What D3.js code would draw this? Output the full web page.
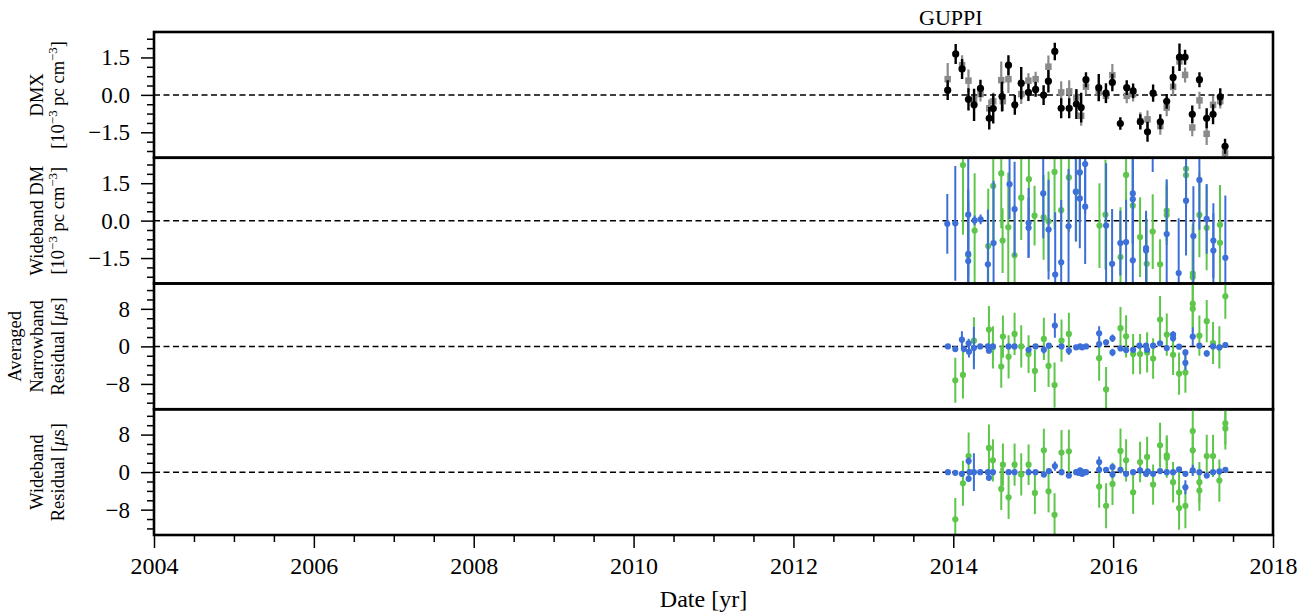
<!DOCTYPE html>
<html>
<head>
<meta charset="utf-8">
<script src="https://cdn.jsdelivr.net/npm/d3@7"></script>
<style>
  html, body { margin: 0; padding: 0; background: #fff; }
  svg { display: block; font-family: "Liberation Serif", "DejaVu Serif", serif; }
</style>
</head>
<body>
<svg id="chart" width="1305" height="615"></svg>
<script>
// ---- data: [year, value, error] ----
const dmxBlack = [
  [2013.93,0.19,0.4],[2014.03,1.64,0.4],[2014.11,1.04,0.4],[2014.19,-0.18,0.45],[2014.26,-0.40,0.65],
  [2014.34,0.26,0.35],[2014.45,-0.94,0.45],[2014.50,-0.55,0.6],[2014.61,-0.07,0.6],[2014.69,1.19,0.4],
  [2014.77,-0.40,0.4],[2014.85,0.47,0.65],[2014.94,0.10,0.35],[2015.03,0.22,0.3],[2015.13,-0.01,0.4],
  [2015.19,0.55,0.45],[2015.27,1.74,0.35],[2015.35,-0.54,0.4],[2015.45,-0.54,0.4],[2015.54,-0.37,0.6],
  [2015.60,-0.51,0.6],[2015.66,0.61,0.3],[2015.82,0.29,0.55],[2015.91,0.07,0.4],[2015.99,0.50,0.35],
  [2016.09,-1.15,0.25],[2016.17,0.29,0.3],[2016.25,0.16,0.3],[2016.34,-1.08,0.3],[2016.43,-1.48,0.4],
  [2016.50,0.07,0.35],[2016.59,-1.08,0.3],[2016.67,-0.26,0.3],[2016.75,0.70,0.45],[2016.83,1.51,0.55],
  [2016.90,1.51,0.3],[2016.99,-0.78,0.35],[2017.08,0.61,0.3],[2017.17,-0.94,0.4],[2017.25,-0.78,0.4],
  [2017.34,-0.08,0.35],[2017.40,-2.06,0.3]
];
const dmxGray = [
  [2013.93,0.63,0.65],[2014.11,1.19,0.4],[2014.19,0.57,0.45],[2014.26,-0.18,0.35],[2014.34,0.03,0.3],
  [2014.45,-0.54,0.35],[2014.50,-0.26,0.35],[2014.60,0.59,0.75],[2014.62,-0.25,0.4],[2014.69,0.63,0.55],
  [2014.85,0.03,0.4],[2014.94,0.57,0.3],[2015.03,0.63,0.3],[2015.19,1.13,0.45],[2015.35,0.10,0.45],
  [2015.45,0.14,0.45],[2015.54,-0.11,0.35],[2015.60,-0.84,0.4],[2015.66,0.33,0.3],[2015.82,0.10,0.35],
  [2015.91,-0.04,0.3],[2015.99,0.79,0.45],[2016.17,-0.04,0.3],[2016.25,0.03,0.3],[2016.34,-1.05,0.35],
  [2016.43,-0.98,0.35],[2016.59,-1.25,0.35],[2016.67,-0.51,0.35],[2016.75,0.32,0.35],[2016.83,1.34,0.35],
  [2016.90,0.80,0.3],[2016.99,-1.31,0.35],[2017.08,-0.22,0.35],[2017.17,-1.56,0.45],[2017.25,-0.40,0.35],
  [2017.34,-0.25,0.3],[2017.40,-2.32,0.3]
];
const wbDmBlue = [
  [2013.925,-0.13,1.2],[2014.025,-0.11,2.3],[2014.187,0.24,2.5],[2014.187,-1.33,2.6],[2014.187,-1.62,2.4],
  [2014.267,0.01,0.2],[2014.342,0.05,0.2],[2014.433,-1.75,2.2],[2014.504,-0.9,2.5],[2014.704,1.46,1.4],
  [2014.767,0.46,1.9],[2014.942,-0.09,1.4],[2014.942,-0.29,1.2],[2015.125,1.09,1.8],[2015.192,-0.36,2.0],
  [2015.275,-2.16,2.5],[2015.35,-1.67,2.5],[2015.442,-0.23,2.3],[2015.533,1.16,2.0],[2015.583,0.89,2.0],
  [2015.583,1.93,2.0],[2015.65,0.56,2.3],[2015.65,2.27,2.0],[2015.912,-0.2,2.5],[2015.987,-1.73,2.2],
  [2016.09,-0.9,1.3],[2016.162,-0.86,1.7],[2016.246,1.09,2.0],[2016.246,0.86,1.8],[2016.246,-1.59,2.0],
  [2016.412,-1.1,1.5],[2016.412,-1.2,1.5],[2016.495,3.4,1.45],[2016.67,-0.54,2.2],[2016.82,-2.1,2.2],
  [2016.912,0.8,2.2],[2017.004,-0.62,2.0],[2017.079,1.63,2.0],[2017.17,0.07,1.4],[2017.254,-0.8,1.5],
  [2017.254,-1.2,1.5],[2017.404,-1.49,2.5]
];
const wbDmGreen = [
  [2014.121,2.23,2.8],[2014.187,-1.39,2.5],[2014.267,-0.4,2.3],[2014.437,-1.02,2.3],[2014.5,1.39,2.2],
  [2014.6,1.89,2.2],[2014.617,-0.8,1.3],[2014.688,-0.27,2.2],[2014.767,-1.39,2.0],[2014.85,0.92,1.7],
  [2014.946,1.66,2.0],[2015.017,0.2,1.2],[2015.13,0.13,1.7],[2015.192,-0.03,2.0],[2015.267,1.95,2.3],
  [2015.35,0.42,2.3],[2015.446,1.73,2.2],[2015.537,1.16,2.0],[2015.829,-0.2,1.7],[2015.904,0.24,2.2],
  [2016.092,-1.46,2.0],[2016.162,1.83,2.2],[2016.246,0.6,2.3],[2016.337,-0.66,1.6],[2016.42,-1.73,1.8],
  [2016.495,-0.44,1.5],[2016.587,-1.75,1.0],[2016.67,0.4,1.2],[2016.67,0.23,1.2],[2016.912,2.08,1.5],
  [2016.912,1.82,1.5],[2016.996,-2.12,2.0],[2016.996,-2.26,2.0],[2017.079,0.23,1.7],[2017.17,-0.29,1.7],
  [2017.337,-0.89,1.6],[2017.337,-0.17,1.6]
];
const nbResBlue = [
  [2013.933,0,0.3],[2014.025,-0.57,0.5],[2014.108,1.43,1.8],[2014.133,-0.57,0.6],[2014.192,0.65,1.0],
  [2014.196,-1.15,1.2],[2014.258,-0.36,4.5],[2014.337,0,0.3],[2014.433,0,0.3],[2014.446,-0.93,0.5],
  [2014.496,0,0.3],[2014.692,0,0.3],[2014.767,0,0.3],[2014.942,-0.72,0.6],[2015.029,0,0.3],
  [2015.133,-0.72,0.8],[2015.196,0.14,0.5],[2015.271,4.44,2.6],[2015.354,0,0.3],[2015.446,-0.93,0.8],
  [2015.537,-0.2,0.3],[2015.587,0,0.3],[2015.612,-0.2,0.3],[2015.662,0,0.3],[2015.825,2.8,1.5],
  [2015.825,0.5,0.8],[2015.912,0.86,0.6],[2015.992,1.72,0.8],[2015.992,-1.29,0.8],[2016.092,-0.43,0.5],
  [2016.162,-0.79,0.5],[2016.25,-0.72,0.5],[2016.329,0.14,0.4],[2016.412,0.14,0.4],[2016.425,-0.72,0.5],
  [2016.5,0.14,0.4],[2016.587,0.65,0.5],[2016.671,-0.36,0.5],[2016.75,2.51,0.7],[2016.75,1.72,0.7],
  [2016.825,-0.07,0.4],[2016.904,-1.29,0.7],[2016.904,-3.51,1.5],[2016.996,2.08,2.0],[2017.079,0.14,0.5],
  [2017.171,-1.51,0.7],[2017.25,0,0.4],[2017.329,-0.22,0.4],[2017.404,0.29,0.6]
];
const nbResGreen = [
  [2014.025,-7.24,4.8],[2014.121,-6.09,5.0],[2014.258,1.22,5.0],[2014.446,3.58,5.0],[2014.496,-0.2,4.5],
  [2014.6,-4.3,4.5],[2014.621,2.08,4.5],[2014.692,-2.22,4.6],[2014.767,2.65,4.5],[2014.85,0,4.5],
  [2014.942,-1.65,4.0],[2015.021,-5.23,4.5],[2015.133,1.58,4.5],[2015.192,-4.16,4.5],[2015.267,-8.24,4.8],
  [2015.354,1.22,4.5],[2015.446,2.65,4.5],[2015.825,-2.51,4.8],[2015.912,-9.18,4.8],[2016.092,3.87,4.5],
  [2016.162,2.15,4.5],[2016.25,-1.65,4.3],[2016.337,-1.65,4.3],[2016.425,-1.29,4.3],[2016.5,-2.58,4.3],
  [2016.587,5.73,5.0],[2016.671,2.51,4.5],[2016.75,-1.79,4.3],[2016.825,-5.81,4.5],[2016.904,-5.59,4.3],
  [2016.996,9.1,5.0],[2016.996,8.03,5.0],[2017.079,2.29,4.3],[2017.171,5.38,4.5],[2017.25,0.72,4.5],
  [2017.329,-0.2,4.5],[2017.404,10.68,4.8]
];
const wbResBlue = [
  [2013.933,0,0.3],[2014.025,-0.14,0.4],[2014.108,-0.36,0.6],[2014.192,2.37,0.8],[2014.192,-1.43,0.7],
  [2014.204,0,0.4],[2014.258,0,4.0],[2014.337,0,0.3],[2014.433,0,0.3],[2014.446,-1.22,0.6],
  [2014.496,0,0.3],[2014.692,0,0.3],[2014.767,0,0.3],[2014.942,0,0.3],[2015.029,0,0.3],
  [2015.133,-0.5,0.6],[2015.196,0.22,0.5],[2015.271,1.29,1.0],[2015.354,0,0.3],[2015.446,-0.72,0.6],
  [2015.537,0,0.3],[2015.567,-0.14,0.3],[2015.587,0.36,0.3],[2015.612,-0.36,0.3],[2015.641,0,0.3],
  [2015.662,0,0.3],[2015.825,2.15,1.2],[2015.825,0.5,0.7],[2015.912,0.5,0.5],[2015.992,1.08,0.7],
  [2015.992,-0.5,0.7],[2016.092,0.5,0.5],[2016.162,-0.36,0.5],[2016.25,0,0.4],[2016.337,0.36,0.4],
  [2016.412,-0.36,0.4],[2016.433,0.14,0.4],[2016.5,-0.36,0.4],[2016.587,0.22,0.5],[2016.671,0,0.4],
  [2016.75,0,0.4],[2016.825,0.57,0.5],[2016.904,-3.23,1.5],[2016.904,-0.36,0.5],[2016.996,0.36,1.2],
  [2017.079,0,0.4],[2017.171,-0.72,0.6],[2017.25,0,0.4],[2017.329,0.14,0.4],[2017.404,0.5,0.6]
];
const wbResGreen = [
  [2014.025,-10.04,4.5],[2014.121,-2.37,4.8],[2014.192,3.44,5.0],[2014.446,5.16,5.0],[2014.496,2.51,4.5],
  [2014.6,-3.58,4.5],[2014.621,1.58,4.5],[2014.692,-5.38,4.6],[2014.767,1.58,4.5],[2014.85,-0.5,4.5],
  [2014.942,1.58,4.3],[2015.021,-4.44,4.5],[2015.133,4.66,4.6],[2015.192,-4.09,4.5],[2015.267,-9.1,4.6],
  [2015.354,4.16,4.8],[2015.446,4.44,4.6],[2015.825,-3.08,4.5],[2015.912,-7.17,4.8],[2015.992,-2.51,4.5],
  [2016.092,4.52,4.8],[2016.162,2.51,4.5],[2016.25,-4.3,4.6],[2016.337,2.15,4.3],[2016.425,3.23,4.3],
  [2016.5,-2.65,4.3],[2016.587,5.73,4.8],[2016.671,3.58,4.3],[2016.671,3.08,4.3],[2016.75,-2.15,4.3],
  [2016.825,-4.3,4.5],[2016.825,-7.67,4.6],[2016.904,-7.17,4.8],[2016.996,8.74,4.8],[2016.996,4.66,4.5],
  [2017.079,-2.15,4.3],[2017.079,-3.94,4.3],[2017.171,3.44,4.5],[2017.25,3.44,4.5],[2017.329,-1.79,4.5],
  [2017.404,10.39,4.5],[2017.404,9.32,4.5]
];

// ---- axes ticks ----
const yearTicks = [2004, 2006, 2008, 2010, 2012, 2014, 2016, 2018];
const yearMinorStep = 0.5;
const dmTicks = [-1.5, 0, 1.5];
const dmMinorStep = 0.375;
const resTicks = [-8, 0, 8];
const resMinorStep = 2;
const dmDomain = [-2.52, 2.52];
const resDomain = [-13.4, 13.4];

const BLACK = "#000000", GRAY = "#8a8a8a", BLUE = "#3d6fd9", GREEN = "#5ec64b";

// ---- panel definitions ----
const dmUnits = [{t: "[10"}, {t: "\u22123", sup: true}, {t: " pc cm"}, {t: "\u22123", sup: true}, {t: "]"}];
const usUnits = [{t: "Residual ["}, {t: "\u03bc", it: true}, {t: "s]"}];
const panels = [
  { lines: [[{t: "DMX"}], dmUnits],
    domain: dmDomain, ticks: dmTicks, minor: dmMinorStep, fmt: d3.format(".1f"),
    series: [
      { data: dmxGray, color: GRAY, shape: "square", lw: 2.2, size: 6.5 },
      { data: dmxBlack, color: BLACK, shape: "circle", lw: 2.4, size: 3.6 }
    ] },
  { lines: [[{t: "Wideband DM"}], dmUnits],
    domain: dmDomain, ticks: dmTicks, minor: dmMinorStep, fmt: d3.format(".1f"),
    series: [
      { data: wbDmGreen, color: GREEN, shape: "circle", lw: 2, size: 3.1 },
      { data: wbDmBlue, color: BLUE, shape: "circle", lw: 2, size: 3.1 }
    ] },
  { lines: [[{t: "Averaged"}], [{t: "Narrowband"}], usUnits],
    domain: resDomain, ticks: resTicks, minor: resMinorStep, fmt: d3.format("d"),
    series: [
      { data: nbResGreen, color: GREEN, shape: "circle", lw: 2, size: 3.1 },
      { data: nbResBlue, color: BLUE, shape: "circle", lw: 2, size: 3.1 }
    ] },
  { lines: [[{t: "Wideband"}], usUnits],
    domain: resDomain, ticks: resTicks, minor: resMinorStep, fmt: d3.format("d"),
    series: [
      { data: wbResGreen, color: GREEN, shape: "circle", lw: 2, size: 3.1 },
      { data: wbResBlue, color: BLUE, shape: "circle", lw: 2, size: 3.1 }
    ] }
];

// ---- layout ----
const plotLeft = 154, plotRight = 1273, plotTop = 32, panelH = 125.75;
const svg = d3.select("#chart");
const x = d3.scaleLinear().domain([2004, 2018]).range([plotLeft, plotRight]);

function rangeStep(lo, hi, step) {
  const out = [];
  const k0 = Math.ceil(lo / step - 1e-9), k1 = Math.floor(hi / step + 1e-9);
  for (let k = k0; k <= k1; k++) out.push(+(k * step).toFixed(6));
  return out;
}

panels.forEach((p, i) => {
  const top = plotTop + i * panelH, bottom = top + panelH;
  const y = d3.scaleLinear().domain(p.domain).range([bottom, top]);
  const g = svg.append("g");

  const clipId = "panel-clip-" + i;
  svg.append("clipPath").attr("id", clipId)
    .append("rect").attr("x", plotLeft).attr("y", top)
    .attr("width", plotRight - plotLeft).attr("height", panelH);
  const body = g.append("g").attr("clip-path", `url(#${clipId})`);

  // zero reference line
  body.append("line")
    .attr("x1", plotLeft).attr("x2", plotRight)
    .attr("y1", y(0)).attr("y2", y(0))
    .attr("stroke", "#000").attr("stroke-width", 1.5)
    .attr("stroke-dasharray", "6,3.5");

  p.series.forEach(s => {
    const sg = body.append("g");
    sg.selectAll("line").data(s.data).join("line")
      .attr("x1", d => x(d[0])).attr("x2", d => x(d[0]))
      .attr("y1", d => y(d[1] - d[2])).attr("y2", d => y(d[1] + d[2]))
      .attr("stroke", s.color).attr("stroke-width", s.lw);
    if (s.shape === "square") {
      sg.selectAll("rect").data(s.data).join("rect")
        .attr("x", d => x(d[0]) - s.size / 2).attr("y", d => y(d[1]) - s.size / 2)
        .attr("width", s.size).attr("height", s.size)
        .attr("fill", s.color);
    } else {
      sg.selectAll("circle").data(s.data).join("circle")
        .attr("cx", d => x(d[0])).attr("cy", d => y(d[1]))
        .attr("r", s.size).attr("fill", s.color);
    }
  });

  // y axis: minor ticks, then major ticks with labels
  const minorVals = rangeStep(p.domain[0], p.domain[1], p.minor).filter(v => !p.ticks.includes(v));
  const minorAxis = g.append("g").attr("transform", `translate(${plotLeft},0)`)
    .call(d3.axisLeft(y).tickValues(minorVals).tickSize(7).tickFormat(""));
  minorAxis.select(".domain").remove();
  minorAxis.selectAll("line").attr("stroke-width", 1.5);

  const majorAxis = g.append("g").attr("transform", `translate(${plotLeft},0)`)
    .call(d3.axisLeft(y).tickValues(p.ticks).tickSize(13).tickPadding(11).tickFormat(p.fmt));
  majorAxis.select(".domain").remove();
  majorAxis.selectAll("line").attr("stroke-width", 1.5);
  majorAxis.selectAll("text")
    .attr("font-family", '"Liberation Serif", serif')
    .attr("font-size", 23).attr("fill", "#000");

  // multi-line rotated axis label; the last line keeps a fixed baseline
  const baseX = 64, lineGap = 21.5, midY = (top + bottom) / 2;
  const n = p.lines.length;
  p.lines.forEach((segs, li) => {
    const bx = baseX - (n - 1 - li) * lineGap;
    const t = g.append("text")
      .attr("transform", `translate(${bx},${midY}) rotate(-90)`)
      .attr("text-anchor", "middle")
      .attr("font-size", 18.5).attr("fill", "#000");
    let raised = false;
    segs.forEach(sg => {
      const ts = t.append("tspan").text(sg.t);
      if (sg.sup) {
        ts.attr("font-size", 13).attr("dy", raised ? 0 : -7.5);
        raised = true;
      } else if (raised) {
        ts.attr("dy", 7.5);
        raised = false;
      }
      if (sg.it) ts.attr("font-style", "italic");
    });
  });

  // panel frame
  g.append("rect")
    .attr("x", plotLeft).attr("y", top)
    .attr("width", plotRight - plotLeft).attr("height", panelH)
    .attr("fill", "none").attr("stroke", "#000").attr("stroke-width", 2.6);

  // time axis below the last panel
  if (i === panels.length - 1) {
    const minorYears = rangeStep(2004, 2018, yearMinorStep).filter(v => !yearTicks.includes(v));
    const xm = g.append("g").attr("transform", `translate(0,${bottom})`)
      .call(d3.axisBottom(x).tickValues(minorYears).tickSize(7).tickFormat(""));
    xm.select(".domain").remove();
    xm.selectAll("line").attr("stroke-width", 1.5);
    const xa = g.append("g").attr("transform", `translate(0,${bottom})`)
      .call(d3.axisBottom(x).tickValues(yearTicks).tickSize(13).tickPadding(9).tickFormat(d3.format("d")));
    xa.select(".domain").remove();
    xa.selectAll("line").attr("stroke-width", 1.5);
    xa.selectAll("text")
      .attr("font-family", '"Liberation Serif", serif')
      .attr("font-size", 24).attr("fill", "#000");
  }
});

// axis title and backend label
svg.append("text")
  .attr("x", (plotLeft + plotRight) / 2 - 10).attr("y", 607)
  .attr("text-anchor", "middle").attr("font-size", 24)
  .text("Date [yr]");

svg.append("text")
  .attr("x", x(2013.97)).attr("y", 25)
  .attr("text-anchor", "middle").attr("font-size", 22)
  .text("GUPPI");
</script>
</body>
</html>
